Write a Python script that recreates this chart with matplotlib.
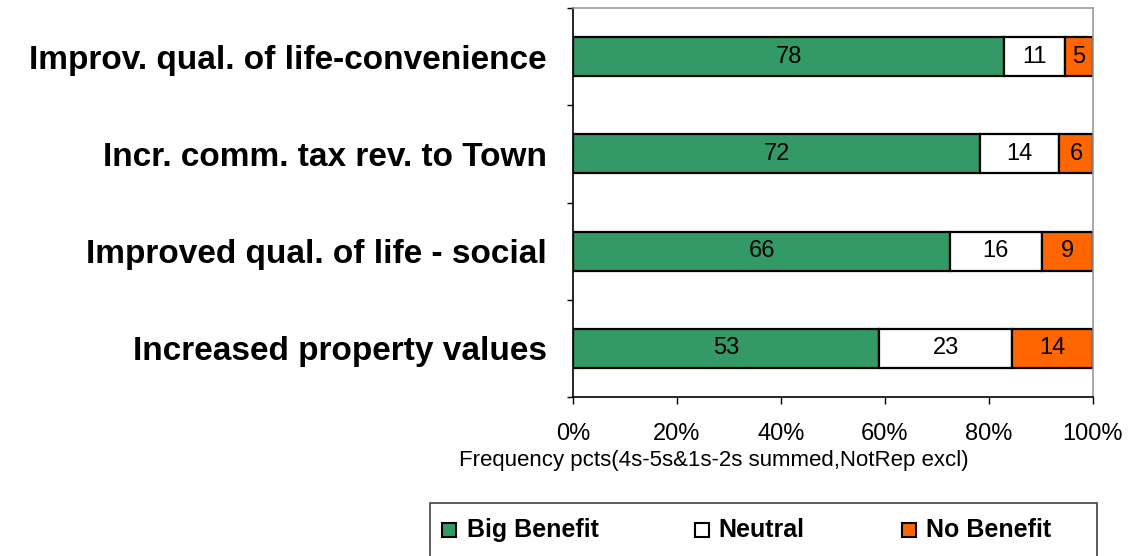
import numpy as np
import matplotlib.pyplot as plt
from matplotlib.patches import Rectangle

plt.rcParams['font.family'] = ['Liberation Sans', 'DejaVu Sans']

# survey items, bottom to top
items = ["Increased property values", "Improved qual. of life - social",
         "Incr. comm. tax rev. to Town", "Improv. qual. of life-convenience"]
big_benefit = [53, 66, 72, 78]
neutral = [23, 16, 14, 11]
no_benefit = [14, 9, 6, 5]

names = ["Big Benefit", "Neutral", "No Benefit"]
colors = ["#339966", "#ffffff", "#ff6600"]
series = [big_benefit, neutral, no_benefit]

W, H = 1128, 556
totals = np.array(big_benefit) + np.array(neutral) + np.array(no_benefit)
ypos = np.arange(len(items))

fig = plt.figure(figsize=(W / 100, H / 100), dpi=100)
ax = fig.add_axes([573 / W, 1 - 397 / H, 520 / W, 389 / H])

# 100% stacked bars, labelled with the raw counts
left = np.zeros(len(items))
for vals, color in zip(series, colors):
    pct = np.array(vals) / totals * 100
    ax.barh(ypos, pct, left=left, height=0.4, color=color,
            edgecolor="black", linewidth=1.6)
    for y, l, p, v in zip(ypos, left, pct, vals):
        ax.text(l + p / 2, y, str(v), ha="center", va="center", fontsize=17)
    left += pct

ax.set_xlim(0, 100)
ax.set_ylim(-0.5, len(items) - 0.5)
ax.set_xticks(np.arange(0, 101, 20))
ax.set_xticklabels([f"{t}%" for t in range(0, 101, 20)], fontsize=17)
ax.set_yticks(ypos)
ax.set_yticklabels(items, fontsize=24, fontweight="bold")
ax.set_yticks(np.arange(-0.5, len(items), 1), minor=True)
ax.tick_params(axis="y", which="major", length=0, pad=19)
ax.tick_params(axis="y", which="minor", length=4.5, width=1)
ax.tick_params(axis="x", length=5, width=1, pad=14)
ax.set_xlabel("Frequency pcts(4s-5s&1s-2s summed,NotRep excl)", fontsize=16, labelpad=3)
ax.xaxis.label.set_x((714 - 573) / 520)

for s in ("left", "bottom"):
    ax.spines[s].set_color("black")
    ax.spines[s].set_linewidth(1.2)
for s in ("top", "right"):
    ax.spines[s].set_color("#999999")
    ax.spines[s].set_linewidth(1.2)

# legend box along the bottom edge
fig.patches.append(Rectangle((430 / W, -0.05), 667 / W, 0.05 + 1 - 503 / H,
                             transform=fig.transFigure, facecolor="none",
                             edgecolor="#404040", linewidth=1.2))
sq_x = [442, 695, 902]
txt_x = [467, 718, 926]
for name, color, sx, tx in zip(names, colors, sq_x, txt_x):
    fig.patches.append(Rectangle((sx / W, 1 - 537 / H), 14 / W, 14 / H,
                                 transform=fig.transFigure, facecolor=color,
                                 edgecolor="black", linewidth=1.5))
    fig.text(tx / W, 1 - 530 / H, name, ha="left", va="center",
             fontsize=18, fontweight="bold")

fig.savefig("out.png", dpi=100)
